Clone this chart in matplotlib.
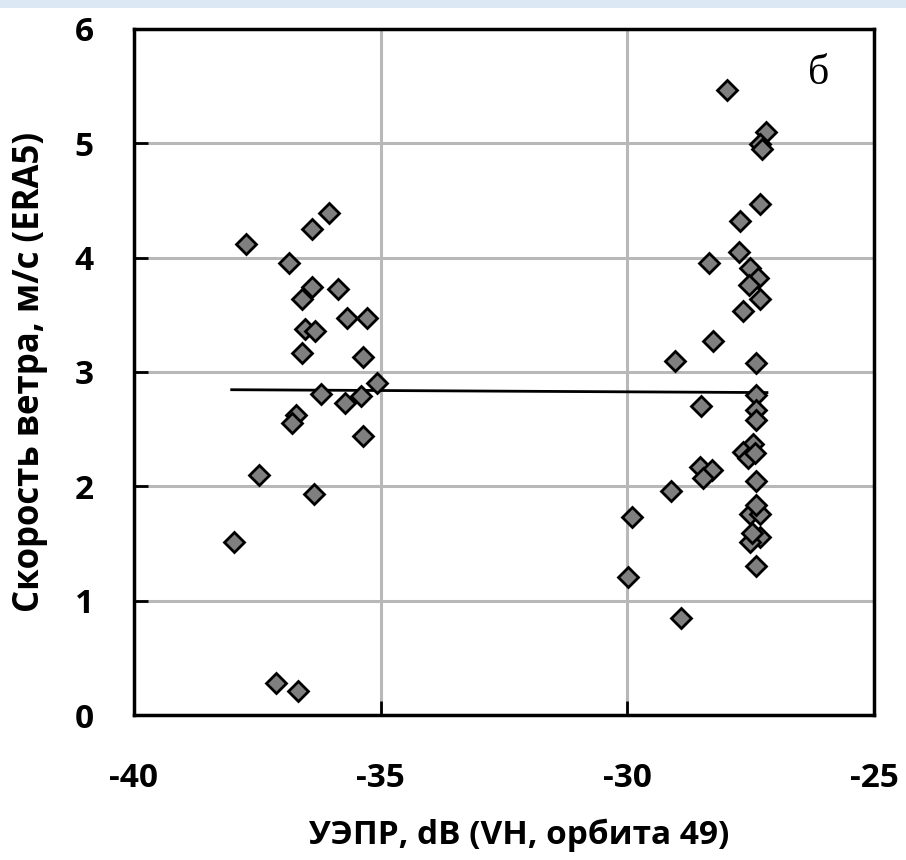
import matplotlib
matplotlib.use('Agg')
import matplotlib.pyplot as plt
from matplotlib.patches import Rectangle

# left cluster (dB, m/s)
left_x = [-37.98, -37.72, -37.46, -37.13, -36.67, -36.05, -36.39, -36.85, -36.40, -36.60,
          -35.86, -35.68, -35.27, -36.53, -36.33, -36.59, -35.35, -35.07, -36.20, -35.72,
          -35.40, -36.72, -36.80, -35.35, -36.35]
left_y = [1.51, 4.12, 2.10, 0.28, 0.21, 4.39, 4.25, 3.95, 3.74, 3.64,
          3.73, 3.47, 3.47, 3.38, 3.36, 3.17, 3.13, 2.90, 2.81, 2.73,
          2.79, 2.62, 2.55, 2.44, 1.93]

# right cluster
right_x = [-27.97, -27.19, -27.31, -27.27, -27.31, -27.72, -27.73, -28.34, -27.51, -27.36,
           -27.53, -27.31, -27.65, -28.26, -29.03, -27.39, -27.39, -27.39, -27.39, -28.51,
           -27.46, -27.65, -27.55, -27.41, -28.53, -28.29, -28.46, -27.39, -29.12, -29.91,
           -27.51, -27.31, -27.39, -27.31, -27.51, -27.48, -27.39, -29.98, -28.91]
right_y = [5.47, 5.10, 4.99, 4.95, 4.47, 4.32, 4.05, 3.95, 3.91, 3.82,
           3.76, 3.64, 3.53, 3.27, 3.10, 3.08, 2.80, 2.67, 2.58, 2.70,
           2.37, 2.30, 2.25, 2.29, 2.17, 2.14, 2.07, 2.05, 1.96, 1.73,
           1.76, 1.76, 1.84, 1.56, 1.51, 1.59, 1.30, 1.21, 0.85]

# linear trend
trend_x = [-38.02, -27.17]
trend_y = [2.845, 2.82]

xticks = [-40, -35, -30, -25]
yticks = [0, 1, 2, 3, 4, 5, 6]

fig = plt.figure(figsize=(9.06, 8.6), dpi=100)
# faint blue strip along the top edge of the scan
fig.patches.append(Rectangle((0, 0.991), 1, 0.009, transform=fig.transFigure,
                             facecolor='#dce8f4', edgecolor='none'))
ax = fig.add_axes([0.1479, 0.1686, 0.8168, 0.7977])

ax.grid(True, color='#b8b8b8', linewidth=2.2)
ax.set_axisbelow(True)

ax.plot(trend_x, trend_y, color='black', linewidth=2, zorder=2)
xs = left_x + right_x
ys = left_y + right_y
ax.plot(xs, ys, linestyle='none', marker='D', markersize=10.5,
        markerfacecolor='#7f7f7f', markeredgecolor='black', markeredgewidth=2, zorder=3)

ax.set_xlim(-40, -25)
ax.set_ylim(0, 6)
ax.set_xticks(xticks)
ax.set_yticks(yticks)
for s in ax.spines.values():
    s.set_linewidth(2.5)
ax.tick_params(direction='in', length=10, width=2, top=False, right=False)
ax.tick_params(axis='y', pad=29)
ax.tick_params(axis='x', pad=34)

tfont = dict(family='Open Sans', weight='bold', size=24)
ax.set_xticklabels([str(v) for v in xticks], fontdict=tfont)
ax.set_yticklabels([str(v) for v in yticks], fontdict=tfont)

ax.set_xlabel('УЭПР, dB (VH, орбита 49)', family='Open Sans', weight='bold', size=24, va='center')
ax.xaxis.set_label_coords(0.52, -0.175)
ax.set_ylabel('Скорость ветра, м/с (ERA5)', family='Open Sans', weight='bold', size=25, va='center')
ax.yaxis.set_label_coords(-0.14, 0.5)

ax.text(0.925, 0.935, 'б', transform=ax.transAxes, family='Liberation Serif', size=30,
        ha='center', va='center')

fig.savefig('out.png', dpi=100)
